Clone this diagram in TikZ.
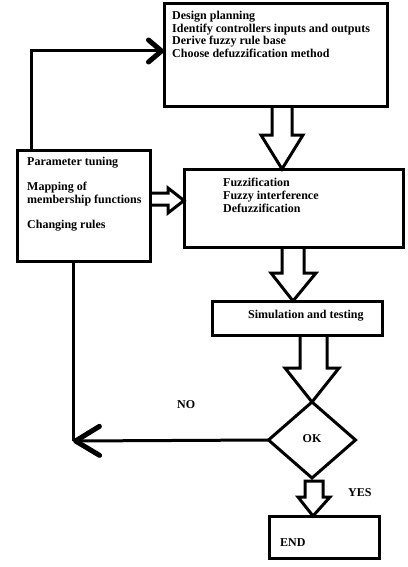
\documentclass[tikz,border=0pt]{standalone}
\usepackage{fontspec}
\setmainfont{Liberation Serif}
\usetikzlibrary{arrows.meta,shapes.geometric,calc}
\begin{document}
\begin{tikzpicture}[x=1pt,y=-1pt,
  box/.style={draw,line width=3pt,inner sep=0pt,outer sep=0pt},
  txt/.style={anchor=base west,inner sep=0pt,font=\fontsize{12}{12.7}\selectfont\bfseries},
  conn/.style={line width=3pt},
  hollow/.style={line width=3pt,line join=miter},
  barbsmall/.style={-{Straight Barb[length=13pt,width=22pt,line width=5pt,round]}},
  barbbig/.style={-{Straight Barb[length=24pt,width=29pt,line width=5pt,round]}}]
\useasboundingbox (0,0) rectangle (407,567);
% boxes
\node[box,minimum width=223pt,minimum height=103pt] (design) at (275.5,55.5) {};
\node[box,minimum width=133pt,minimum height=111pt] (tune) at (83.5,205.5) {};
\node[box,minimum width=219pt,minimum height=78pt] (fuzzy) at (293.5,208) {};
\node[box,minimum width=170pt,minimum height=34pt] (sim) at (297,318) {};
\node[box,diamond,minimum width=87pt,minimum height=76pt,text depth=2pt,font=\fontsize{12}{12.7}\selectfont\bfseries] (ok) at (312,440) {OK};
\node[box,minimum width=110pt,minimum height=42pt] (end) at (324,537) {};
% texts
\node[txt] (d1) at (172,19.5) {Design planning};
\node[txt] (d2) at (172,32.2) {Identify controllers inputs and outputs};
\node[txt] (d3) at (172,44.9) {Derive fuzzy rule base};
\node[txt] (d4) at (172,57.6) {Choose defuzzification method};
\node[txt] (t1) at (27,165.5) {Parameter tuning};
\node[txt] (t2) at (27,190.5) {Mapping of};
\node[txt] (t3) at (27,203.5) {membership functions};
\node[txt] (t4) at (27,228.5) {Changing rules};
\node[txt] (f1) at (223,186.5) {Fuzzification};
\node[txt] (f2) at (223,199.5) {Fuzzy interference};
\node[txt] (f3) at (223,212.5) {Defuzzification};
\node[txt] (s1) at (248,318.5) {Simulation and testing};
\node[txt] (e1) at (280,546.5) {END};
\node[txt] (yes) at (348,496.5) {YES};
\node[txt] (no) at (177,408.5) {NO};
% thin connectors
\coordinate (feedtop) at (31,51);
\draw[conn,barbsmall] (31,0 |- tune.north) -- (feedtop) -- (design.west |- feedtop);
\coordinate (nojoin) at (73,441);
\draw[conn] (73,0 |- tune.south) -- (nojoin);
\draw[conn,barbbig] (ok.west) -- (nojoin);
% hollow block arrows
\draw[hollow] (272,0 |- design.south) -- (272,135) -- (261,135) -- (282,0 |- fuzzy.north) -- (303,135) -- (292,135) -- (292,0 |- design.south);
\draw[hollow] (tune.east |- 0,193) -- (168,193) -- (168,188) -- (fuzzy.west |- 0,200.5) -- (168,213) -- (168,205) -- (tune.east |- 0,205);
\draw[hollow] (282,0 |- fuzzy.south) -- (282,273) -- (271,273) -- (293,0 |- sim.north) -- (316,273) -- (304,273) -- (304,0 |- fuzzy.south);
\draw[hollow] (300,0 |- sim.south) -- (300,368) -- (285,368) -- (ok.north) -- (339,368) -- (327,368) -- (327,0 |- sim.south);
\draw[hollow] (305,481) -- (305,497) -- (298,497) -- (313,0 |- end.north) -- (330,497) -- (323,497) -- (323,481) -- cycle;
\end{tikzpicture}
\end{document}
